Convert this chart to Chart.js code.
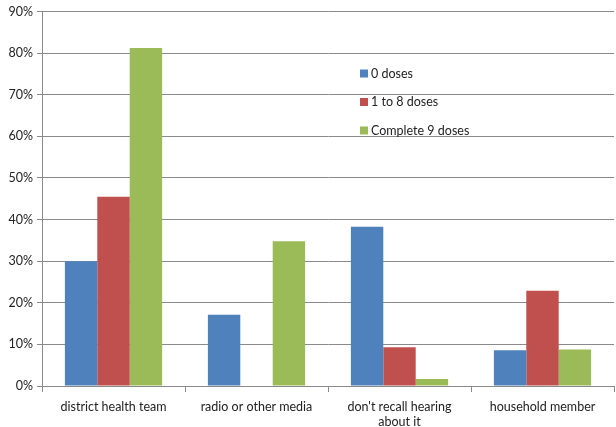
<!DOCTYPE html>
<html>
<head>
<meta charset="utf-8">
<script src="https://cdn.jsdelivr.net/npm/chart.js@4/dist/chart.umd.min.js"></script>
<style>
  html, body { margin: 0; padding: 0; background: #fff; }
  #chart { display: block; }
</style>
</head>
<body>
<canvas id="chart" width="616" height="427"></canvas>
<script>
// Datos (porcentajes)
const categories = ['district health team', 'radio or other media', ["don't recall hearing", 'about it'], 'household member'];
const seriesNames = ['0 doses', '1 to 8 doses', 'Complete 9 doses'];
const zeroDoses = [30.0, 17.1, 38.3, 8.6];
const oneToEight = [45.5, 0, 9.3, 22.9];
const completeNine = [81.2, 34.8, 1.7, 8.8];
const yTicks = [0, 10, 20, 30, 40, 50, 60, 70, 80, 90];
const colors = ['#4f81bd', '#c0504d', '#9bbb59'];

const FONT = 'Lato, "Open Sans", sans-serif';

// Leyenda dentro del área del gráfico
const insideLegend = {
    id: 'insideLegend',
    afterDraw(chart) {
        const { ctx, chartArea } = chart;
        const x0 = chartArea.left + 318;
        const y0 = chartArea.top + 62;
        ctx.save();
        ctx.font = '12.5px ' + FONT;
        ctx.textBaseline = 'middle';
        chart.data.datasets.forEach((ds, i) => {
            const y = y0 + i * 28.5;
            ctx.fillStyle = ds.backgroundColor;
            ctx.fillRect(x0, y - 4, 8, 8);
            ctx.fillStyle = '#222';
            ctx.fillText(ds.label, x0 + 11, y);
        });
        ctx.restore();
    }
};

const seriesData = [zeroDoses, oneToEight, completeNine];

new Chart(document.getElementById('chart'), {
    type: 'bar',
    data: {
        labels: categories,
        datasets: seriesNames.map((name, i) => ({
            label: name,
            data: seriesData[i],
            backgroundColor: colors[i],
            borderWidth: 0,
            categoryPercentage: 0.68,
            barPercentage: 1.0
        }))
    },
    options: {
        responsive: false,
        animation: false,
        layout: { padding: { top: 7, right: 2, left: 0, bottom: 0 } },
        plugins: {
            legend: { display: false },
            tooltip: { enabled: false }
        },
        scales: {
            x: {
                grid: {
                    offset: true,
                    drawOnChartArea: false,
                    tickLength: 6,
                    color: '#8a8a8a'
                },
                border: { color: '#8a8a8a' },
                ticks: {
                    color: '#222',
                    font: { family: FONT, size: 12.5 },
                    padding: 7,
                    maxRotation: 0,
                    autoSkip: false
                },
                afterFit(scale) { scale.height = 41; }
            },
            y: {
                min: 0,
                max: 90,
                afterBuildTicks(scale) { scale.ticks = yTicks.map(v => ({ value: v })); },
                grid: {
                    color: '#8a8a8a',
                    tickLength: 5
                },
                border: { color: '#8a8a8a' },
                ticks: {
                    color: '#222',
                    font: { family: FONT, size: 12.5 },
                    padding: 4,
                    callback: v => v + '%'
                },
                afterFit(scale) { scale.width = 42; }
            }
        }
    },
    plugins: [insideLegend]
});
</script>
</body>
</html>
